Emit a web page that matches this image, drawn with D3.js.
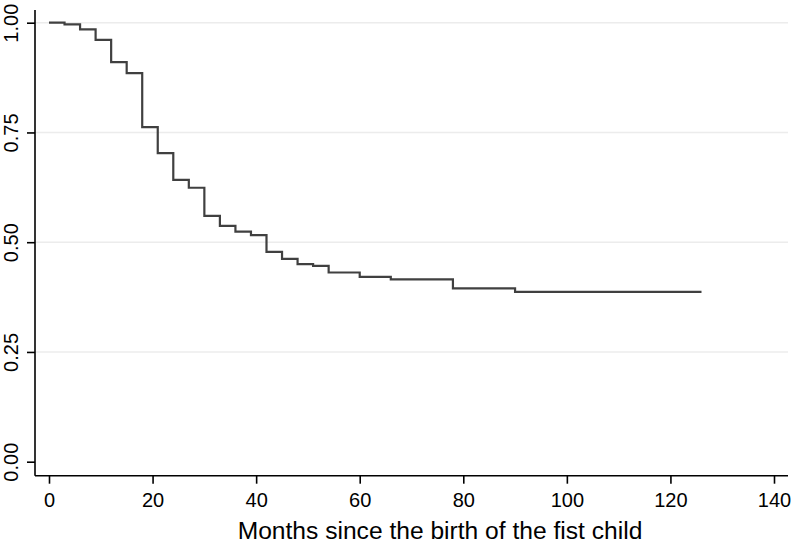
<!DOCTYPE html>
<html>
<head>
<meta charset="utf-8">
<script src="https://cdn.jsdelivr.net/npm/d3@7"></script>
<style>
  body { margin: 0; background: #fff; }
  text { font-family: "Liberation Sans", Arial, sans-serif; fill: #000; }
  .tick text { font-size: 20px; }
</style>
</head>
<body>
<div id="chart"></div>
<script>
const width = 794;
const height = 546;

// Kaplan-Meier estimate
const months = [0, 3, 6, 9, 12, 15, 18, 21, 24, 27, 30, 33, 36, 39, 42, 45, 48, 51, 54, 60, 66, 78, 90, 126];
const survival = [1.000, 0.996, 0.985, 0.961, 0.910, 0.885, 0.762, 0.703, 0.642, 0.624, 0.560, 0.537, 0.524, 0.516,
    0.478, 0.462, 0.450, 0.446, 0.431, 0.421, 0.4155, 0.395, 0.387, 0.387];

const xTicks = [0, 20, 40, 60, 80, 100, 120, 140];
const yTicks = [0, 0.25, 0.5, 0.75, 1];
const xTitle = "Months since the birth of the fist child";

let svg = d3.select("#chart")
    .append("svg")
    .attr("width", width)
    .attr("height", height);

let x = d3.scaleLinear().domain([0, 140]).range([49, 774]);
let y = d3.scaleLinear().domain([0, 1]).range([461.7, 22.7]);

const plotLeft = 35, plotRight = 788, plotBottom = 475.7, plotTop = 10;

// grid lines (not at zero)
svg.append("g")
    .selectAll("line")
    .data(yTicks.filter(d => d > 0))
    .enter()
    .append("line")
    .attr("x1", plotLeft)
    .attr("x2", plotRight)
    .attr("y1", d => y(d))
    .attr("y2", d => y(d))
    .attr("stroke", "#ececec")
    .attr("stroke-width", 1.6);

// y axis
let yAxis = svg.append("g")
    .attr("transform", "translate(" + plotLeft + ",0)")
    .call(d3.axisLeft(y).tickValues(yTicks).tickSize(8).tickFormat(d3.format(".2f")));
yAxis.select(".domain").attr("d", "M0," + plotTop + "V" + plotBottom).attr("stroke-width", 1.6);
yAxis.selectAll(".tick line").attr("stroke-width", 1.6);
yAxis.selectAll(".tick text")
    .attr("x", null).attr("dy", null)
    .attr("text-anchor", "middle")
    .attr("transform", "translate(-17,0) rotate(-90)");

// x axis
let xAxis = svg.append("g")
    .attr("transform", "translate(0," + plotBottom + ")")
    .call(d3.axisBottom(x).tickValues(xTicks).tickSize(8));
xAxis.select(".domain").attr("d", "M" + plotLeft + ",0H" + plotRight).attr("stroke-width", 1.6);
xAxis.selectAll(".tick line").attr("stroke-width", 1.6);
xAxis.selectAll(".tick text")
    .attr("y", 31.3)
    .attr("dy", null);

svg.append("text")
    .attr("x", 440)
    .attr("y", 538.5)
    .attr("text-anchor", "middle")
    .style("font-size", "24.6px")
    .text(xTitle);

// survival step line
let line = d3.line()
    .x((d, i) => x(months[i]))
    .y(d => y(d))
    .curve(d3.curveStepAfter);

svg.append("path")
    .datum(survival)
    .attr("d", line)
    .attr("fill", "none")
    .attr("stroke", "#404040")
    .attr("stroke-width", 2.2);
</script>
</body>
</html>
